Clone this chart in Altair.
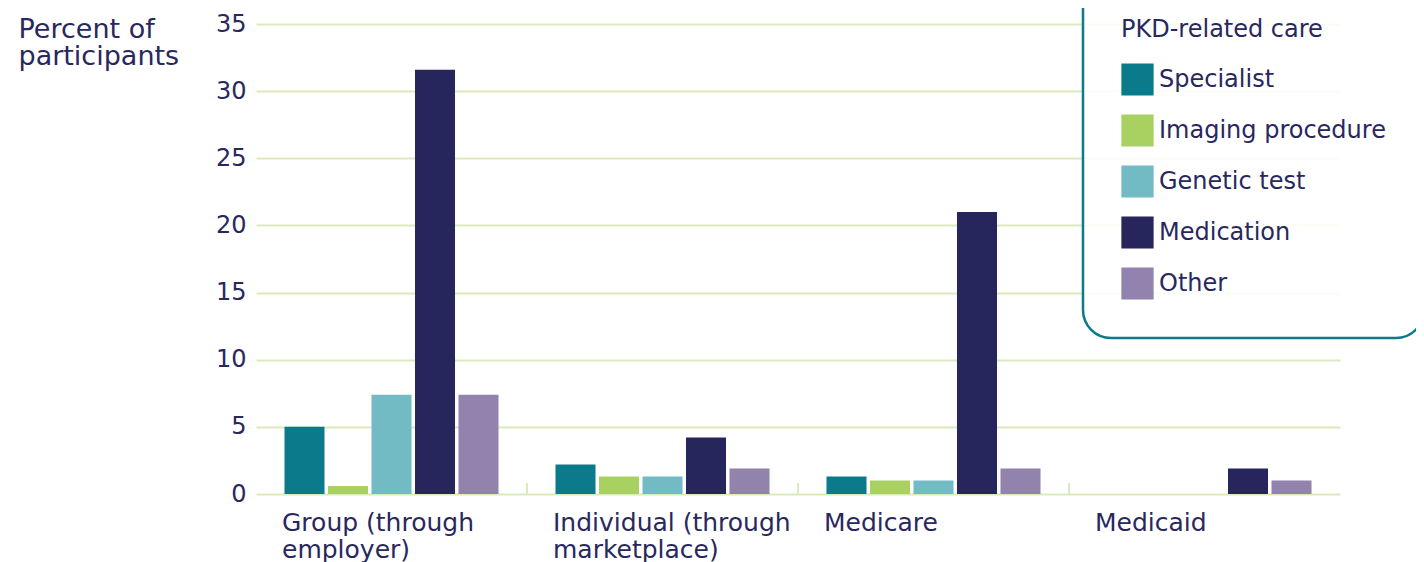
import json
import altair as alt
import pandas as pd

categories = ["Group (through employer)", "Individual (through marketplace)", "Medicare", "Medicaid"]
category_lines = [["Group (through", "employer)"], ["Individual (through", "marketplace)"], ["Medicare"], ["Medicaid"]]
care_types = ["Specialist", "Imaging procedure", "Genetic test", "Medication", "Other"]
specialist = [5.0, 2.2, 1.3, 0.0]
imaging = [0.6, 1.3, 1.0, 0.0]
genetic = [7.4, 1.3, 1.0, 0.0]
medication = [31.6, 4.2, 21.0, 1.9]
other = [7.4, 1.9, 1.9, 1.0]
colors = ["#0b7a8a", "#a8d162", "#72bac4", "#26255c", "#9183ad"]
y_ticks = [0, 5, 10, 15, 20, 25, 30, 35]

TEXT = "#28285e"
GRID = "#d9eabb"
FONT = "DejaVu Sans"

rows = []
for ct, vals in zip(care_types, [specialist, imaging, genetic, medication, other]):
    for cat, v in zip(categories, vals):
        rows.append({"insurance": cat, "care": ct, "value": v})
df = pd.DataFrame(rows)

label_expr = "datum.label"
for cat, lines in reversed(list(zip(categories, category_lines))):
    label_expr = f"datum.value == {json.dumps(cat)} ? {json.dumps(lines)} : ({label_expr})"

x_axis = alt.Axis(
    title=None, labelOffset=-109.5, labelAlign="left",
    labelBaseline="alphabetic", labelPadding=36.5, labelLineHeight=27,
    ticks=False, domain=False, grid=False, labelFontSize=25,
    labelColor=TEXT, labelFont=FONT, labelAngle=0, labelExpr=label_expr,
    labelLimit=400, labelOverlap=False,
)

bars = alt.Chart(df).mark_bar().encode(
    x=alt.X(
        "insurance:N",
        sort=categories,
        scale=alt.Scale(paddingInner=0, paddingOuter=0),
        axis=x_axis,
    ),
    xOffset=alt.XOffset("care:N", sort=care_types,
                        scale=alt.Scale(paddingInner=0.08, paddingOuter=0.655)),
    y=alt.Y(
        "value:Q",
        scale=alt.Scale(domain=[0, 35], nice=False),
        axis=alt.Axis(
            values=y_ticks, title=["Percent of", "participants"], titleAngle=0,
            titleAlign="left", titleBaseline="alphabetic", titleX=-238, titleY=13,
            titleFontSize=27, titleLineHeight=27, titleFontWeight="normal",
            titleColor=TEXT, titleFont=FONT,
            labelFontSize=24, labelPadding=10, labelColor=TEXT, labelFont=FONT,
            ticks=False, domain=False, grid=True, gridColor=GRID, gridWidth=2,
        ),
    ),
    color=alt.Color(
        "care:N", sort=care_types,
        scale=alt.Scale(domain=care_types, range=colors),
        legend=alt.Legend(
            title="PKD-related care", orient="none", legendX=827, legendY=-44,
            padding=38, strokeColor="#0d7b87", cornerRadius=28,
            fillColor="rgba(255,255,255,0.86)",
            symbolType="square", symbolSize=1040, symbolStrokeWidth=0, symbolOpacity=1,
            rowPadding=18, titlePadding=21, labelOffset=5, labelFontSize=24,
            labelColor=TEXT, labelFont=FONT, labelLimit=400,
            labelExpr="datum.label + '\u2003\u2003'",
            titleFontSize=24, titleFontWeight="normal", titleColor=TEXT, titleFont=FONT,
            titleLimit=400,
        ),
    ),
)

tick_df = pd.DataFrame({"insurance": categories[1:]})
ticks = alt.Chart(tick_df).mark_rule(color=GRID, strokeWidth=2).encode(
    x=alt.X("insurance:N", sort=categories, bandPosition=0, axis=x_axis),
    y=alt.value(470),
    y2=alt.value(459),
)

chart = alt.layer(bars, ticks).properties(
    width=1084,
    height=470,
    padding={"left": 248, "top": 16, "right": 76, "bottom": 68},
    autosize=alt.AutoSizeParams(type="none"),
).configure_view(stroke=None).configure_legend(strokeWidth=2.5)

chart.save("out.html", embed_options={"renderer": "svg", "actions": False})
